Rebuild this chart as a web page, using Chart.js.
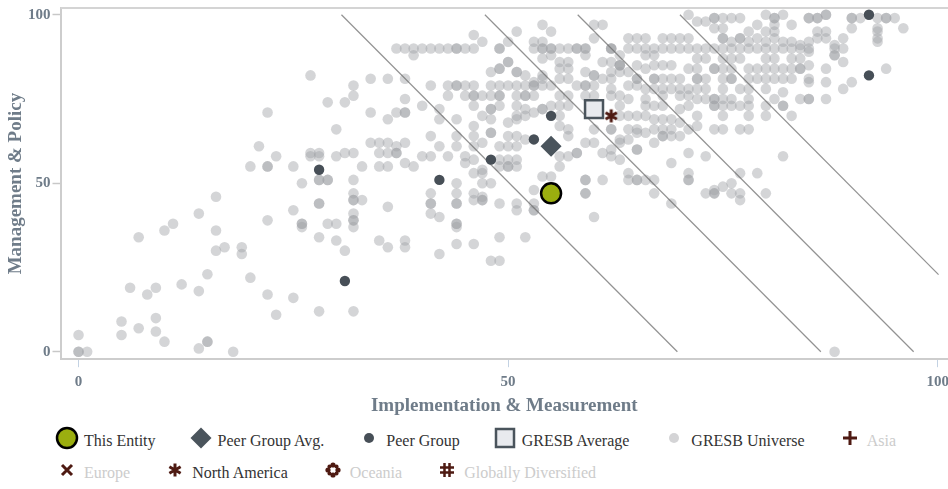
<!DOCTYPE html>
<html>
<head>
<meta charset="utf-8">
<script src="https://cdn.jsdelivr.net/npm/chart.js@4.4.1/dist/chart.umd.min.js"></script>
<style>
  html, body { margin: 0; padding: 0; background: #fff; }
  #wrap { position: relative; width: 948px; height: 489px; overflow: hidden; }
  #chartBox { position: absolute; left: 0; top: 0; width: 948px; height: 420px; }
  #legend {
    position: absolute; left: 57px; top: 430px; width: 880px;
    display: flex; flex-wrap: wrap; column-gap: 35px; row-gap: 10px;
    font: 16px "Liberation Serif", serif;
  }
  #legend .item { display: flex; align-items: center; height: 22px; white-space: nowrap; }
  #legend canvas { margin: 0 4px 0 -3px; position: relative; top: -3px; }
</style>
</head>
<body>
<div id="wrap">
  <div id="chartBox"><canvas id="chart"></canvas></div>
  <div id="legend"></div>
</div>
<script>
const xTicks = [0, 50, 100];
const yTicks = [0, 50, 100];

const thisEntity = [[55, 47]];
const peerGroupAvg = [[55, 61]];
const gresbAverage = [[60, 72]];
const northAmerica = [[62, 70]];

const peerGroup = [
    [28, 54], [31, 21], [42, 51], [48, 57], [53, 63], [55, 70], [92, 100], [92, 82]
];

// score bands (start at y=100, end at bottom/right edge)
const scoreLines = [
    [[30.6, 100], [69.7, 0]],
    [[47.3, 100], [86.4, 0]],
    [[58.1, 100], [97.2, 0]],
    [[70.0, 100], [100.1, 22.9]]
];

// GRESB universe (repeated pairs are stacked entities)
const universeLow = [
    [0, 5], [0, 0], [0, 0], [1, 0], [5, 9], [5, 5], [7, 7], [7, 34], [6, 19], [8, 17], [9, 19], [9, 10],
    [9, 6], [10, 3], [10, 36], [11, 38], [12, 20], [14, 18], [14, 41], [15, 23], [15, 3], [15, 3], [14, 1],
    [16, 46], [16, 36], [16, 30], [17, 31], [18, 0], [19, 31], [19, 29], [20, 22], [22, 39], [22, 17],
    [23, 11], [25, 42], [25, 16], [26, 50], [26, 38], [26, 38], [28, 44], [28, 34], [28, 12],
    [27, 82], [22, 71], [21, 61], [23, 58], [20, 55], [22, 55], [22, 55], [25, 55], [27, 58], [28, 59],
    [28, 51], [28, 51]
];

const universeMid = [
    [29, 74], [31, 74], [32, 76], [32, 79], [34, 81], [36, 81], [38, 81], [30, 66], [34, 71], [36, 69],
    [37, 71], [38, 71], [38, 71], [38, 75], [40, 73],
    [37, 90], [38, 90], [39, 90], [40, 90], [41, 90], [42, 90], [43, 90], [44, 90], [44, 90], [45, 90],
    [46, 90], [39, 88],
    [34, 62], [35, 62], [36, 62], [37, 61], [38, 62],
    [27, 59], [28, 58], [30, 58], [31, 59], [32, 59], [35, 59], [36, 59], [37, 59], [37, 59], [40, 58],
    [33, 55], [35, 55], [36, 55], [38, 56], [39, 55], [32, 51], [29, 51], [29, 51],
    [32, 47], [32, 45], [32, 45], [32, 41], [32, 39], [32, 39], [32, 37], [33, 45], [28, 44], [26, 37],
    [29, 38], [30, 38], [30, 33], [31, 30], [32, 12], [36, 43], [35, 33], [36, 31], [38, 33], [38, 31],
    [41, 47], [41, 44], [41, 44], [41, 41], [42, 40], [42, 29], [44, 50], [44, 47], [44, 44], [44, 44],
    [44, 38], [44, 38], [44, 37], [44, 32], [46, 45], [47, 45], [47, 45], [46, 32], [48, 27], [49, 27],
    [49, 44], [49, 34], [51, 44], [51, 42], [52, 34], [53, 48], [53, 44], [53, 42], [53, 42], [60, 40],
    [46, 47], [47, 46], [59, 47], [59, 47], [54, 52], [55, 52], [59, 51], [59, 51], [61, 51], [64, 51],
    [45, 56], [47, 54], [49, 55], [50, 55], [50, 55], [51, 55], [56, 55],
    // x 41-56
    [46, 94], [47, 92], [50, 92], [51, 95], [53, 92], [54, 92], [54, 97], [55, 95], [49, 90], [49, 90],
    [53, 90], [54, 90], [54, 90], [55, 90], [55, 90],
    [50, 86], [50, 86], [54, 87], [55, 88], [48, 83], [49, 84], [49, 84], [51, 83], [51, 83], [52, 82],
    [53, 80], [54, 81], [54, 82],
    [41, 79], [43, 79], [44, 79], [44, 79], [45, 79], [46, 79], [48, 79], [49, 79], [50, 79], [51, 79],
    [52, 79], [53, 79], [53, 79], [54, 79], [55, 79],
    [43, 76], [45, 76], [46, 76], [46, 76], [47, 76], [48, 76], [49, 76], [49, 76], [51, 76], [52, 76],
    [52, 76], [53, 76],
    [42, 72], [46, 73], [48, 72], [48, 72], [49, 73], [51, 73], [52, 72], [53, 71], [54, 72], [54, 72],
    [55, 73],
    [42, 69], [44, 69], [46, 67], [47, 70], [48, 69], [50, 68], [51, 70], [51, 69], [52, 70],
    [41, 64], [44, 64], [46, 64], [48, 65], [48, 65], [50, 64], [51, 64], [52, 63],
    [42, 61], [44, 61], [46, 61], [47, 62], [49, 61], [50, 61], [51, 61],
    [41, 58], [43, 58], [45, 58], [46, 57], [49, 57], [50, 57], [51, 57],
    [46, 53], [47, 53], [47, 50], [48, 50]
];

const universeHigh = [
    // x 56-71
    [60, 97], [61, 97], [60, 93], [64, 93], [65, 93], [66, 93], [68, 93], [69, 93], [70, 93], [71, 93],
    [56, 90], [57, 90], [58, 90], [58, 90], [59, 90], [59, 90], [62, 90], [62, 90], [62, 90], [64, 90],
    [65, 90], [66, 90], [67, 90], [68, 90], [69, 90], [70, 90], [71, 90],
    [63, 88], [66, 88], [67, 88], [59, 88],
    [61, 86], [62, 86], [63, 85], [63, 85], [63, 85], [65, 85], [67, 85], [68, 85], [69, 85], [56, 86],
    [57, 86], [56, 84], [57, 84], [59, 83], [62, 83], [63, 83], [64, 83], [66, 84],
    [56, 81], [57, 81], [60, 82], [60, 82], [61, 81], [62, 81], [65, 81], [65, 81], [67, 81], [67, 81],
    [68, 81], [69, 81], [70, 81],
    [58, 79], [59, 79], [59, 79], [60, 79], [62, 78], [64, 79], [65, 79], [66, 78], [67, 78], [68, 78],
    [69, 78], [70, 78],
    [56, 76], [57, 76], [59, 76], [60, 76], [62, 76], [63, 76], [64, 75], [66, 75], [68, 76], [70, 76],
    [71, 76],
    [56, 73], [57, 73], [63, 73], [66, 73], [67, 73], [68, 73], [70, 72],
    [56, 70], [63, 70], [64, 70], [65, 70], [66, 70], [67, 69], [68, 69], [69, 69], [70, 68],
    [57, 66], [62, 66], [62, 66], [64, 66], [65, 66], [67, 66], [68, 66], [69, 66],
    [56, 67], [60, 66], [57, 64], [63, 63], [64, 63], [59, 62], [60, 62], [63, 62], [62, 60], [65, 60],
    [65, 60], [67, 62], [56, 58], [57, 58], [58, 59], [58, 59], [61, 59], [62, 58], [63, 57],
    // x 71-85
    [71, 100], [72, 98], [73, 98], [74, 99], [74, 99], [75, 99], [76, 99], [77, 99], [80, 100], [81, 99],
    [81, 99], [81, 97], [82, 100], [83, 97], [85, 99], [85, 99], [87, 100], [87, 100],
    [74, 96], [75, 96], [78, 95], [79, 97], [80, 95], [81, 95],
    [75, 93], [75, 93], [76, 92], [77, 93], [77, 93], [78, 92], [79, 93], [80, 92], [81, 93], [82, 92],
    [83, 92], [84, 91], [85, 92],
    [72, 90], [73, 90], [74, 90], [75, 90], [76, 90], [77, 90], [78, 90], [79, 90], [80, 90], [81, 90],
    [82, 90], [83, 90], [84, 90], [85, 90],
    [72, 87], [73, 87], [75, 87], [76, 87], [77, 87], [80, 87], [81, 87], [83, 87], [84, 87],
    [71, 84], [72, 84], [74, 84], [74, 84], [75, 84], [76, 84], [78, 84], [79, 84], [80, 84], [81, 84],
    [82, 84], [83, 84], [84, 84], [84, 84],
    [72, 81], [72, 81], [73, 81], [75, 81], [76, 81], [76, 81], [78, 81], [79, 81], [80, 81], [81, 81],
    [82, 81], [83, 81], [85, 81],
    [71, 78], [72, 78], [73, 78], [75, 78], [77, 78], [78, 78], [80, 78], [82, 77],
    [72, 75], [73, 75], [74, 75], [74, 75], [75, 75], [76, 75], [78, 75], [81, 75], [84, 75], [85, 75],
    [71, 73], [74, 73], [74, 73], [75, 73], [76, 73], [77, 73], [78, 73], [80, 73], [82, 73], [82, 73],
    [72, 70], [75, 70], [78, 70], [80, 70], [83, 70],
    [71, 66], [74, 66], [75, 66], [77, 66], [78, 66],
    // x 85-96
    [86, 99], [86, 99], [90, 99], [90, 99], [91, 99], [93, 99], [94, 99], [94, 99], [95, 99], [90, 96],
    [93, 96], [93, 95], [93, 93], [93, 92], [96, 96], [86, 95], [87, 95], [87, 93], [86, 93], [88, 91],
    [88, 90], [88, 88], [88, 88], [89, 93], [89, 90], [89, 86], [85, 89], [85, 85], [87, 84], [85, 80],
    [87, 80], [85, 75], [87, 75], [89, 78], [90, 80], [94, 84],
    // lower right
    [65, 65], [66, 65], [68, 64], [68, 64], [69, 64], [70, 64], [72, 67],
    [71, 59], [73, 58], [82, 58], [69, 56], [71, 53], [71, 51], [71, 51], [77, 53], [79, 53], [64, 53],
    [65, 51], [65, 51], [66, 51], [67, 51], [67, 47], [69, 44], [73, 47], [74, 48], [74, 47], [74, 47],
    [75, 49], [76, 50], [76, 47], [77, 47], [77, 45], [80, 47], [88, 0]
];

const serif = '"Liberation Serif", "Times New Roman", serif';
const axisGrey = '#6f7c89';
const brown = '#4e1a12';

const pts = (list) => list.map(([x, y]) => ({ x, y }));

function drawSymbol(ctx, kind, c) {
    ctx.save();
    ctx.lineCap = 'butt';
    ctx.lineJoin = 'miter';
    if (kind === 'entity') {
        ctx.beginPath();
        ctx.arc(c, c, 10, 0, Math.PI * 2);
        ctx.fillStyle = '#9bae0f';
        ctx.fill();
        ctx.lineWidth = 2.5;
        ctx.strokeStyle = '#000';
        ctx.stroke();
    } else if (kind === 'peerAvg') {
        ctx.beginPath();
        ctx.moveTo(c - 10.5, c);
        ctx.lineTo(c, c - 10.5);
        ctx.lineTo(c + 10.5, c);
        ctx.lineTo(c, c + 10.5);
        ctx.closePath();
        ctx.fillStyle = '#4a545c';
        ctx.fill();
    } else if (kind === 'peer' || kind === 'universe') {
        ctx.beginPath();
        ctx.arc(c, c, 5, 0, Math.PI * 2);
        ctx.fillStyle = kind === 'peer' ? '#474f57' : '#d4d4d6';
        ctx.fill();
    } else if (kind === 'gresbAvg') {
        ctx.fillStyle = '#e8eaee';
        ctx.strokeStyle = '#4a545c';
        ctx.lineWidth = 2.5;
        ctx.fillRect(c - 9, c - 9, 18, 18);
        ctx.strokeRect(c - 9, c - 9, 18, 18);
    } else {
        ctx.strokeStyle = brown;
        ctx.fillStyle = brown;
        ctx.lineWidth = 3;
        ctx.beginPath();
        if (kind === 'plus') {
            ctx.moveTo(c - 7, c); ctx.lineTo(c + 7, c);
            ctx.moveTo(c, c - 7); ctx.lineTo(c, c + 7);
        } else if (kind === 'cross') {
            ctx.moveTo(c - 5, c - 5); ctx.lineTo(c + 5, c + 5);
            ctx.moveTo(c + 5, c - 5); ctx.lineTo(c - 5, c + 5);
        } else if (kind === 'asterisk') {
            for (let i = 0; i < 3; i++) {
                const a = Math.PI / 2 + i * Math.PI / 3;
                ctx.moveTo(c - Math.cos(a) * 6.5, c - Math.sin(a) * 6.5);
                ctx.lineTo(c + Math.cos(a) * 6.5, c + Math.sin(a) * 6.5);
            }
        } else if (kind === 'hash') {
            ctx.lineWidth = 2.5;
            ctx.moveTo(c - 2.5, c - 7); ctx.lineTo(c - 2.5, c + 7);
            ctx.moveTo(c + 2.5, c - 7); ctx.lineTo(c + 2.5, c + 7);
            ctx.moveTo(c - 7, c - 2.5); ctx.lineTo(c + 7, c - 2.5);
            ctx.moveTo(c - 7, c + 2.5); ctx.lineTo(c + 7, c + 2.5);
        }
        ctx.stroke();
        if (kind === 'flower') {
            for (let i = 0; i < 8; i++) {
                const a = i * Math.PI / 4;
                const r = i % 2 ? 2 : 2.6;
                ctx.beginPath();
                ctx.arc(c + Math.cos(a) * 5, c + Math.sin(a) * 5, r, 0, Math.PI * 2);
                ctx.fill();
            }
        }
    }
    ctx.restore();
}

function symbolCanvas(kind, size) {
    const cv = document.createElement('canvas');
    cv.width = size;
    cv.height = size;
    drawSymbol(cv.getContext('2d'), kind, size / 2);
    return cv;
}

const topLine = {
    id: 'topLine',
    beforeDatasetsDraw(chart) {
        const { ctx, chartArea } = chart;
        ctx.save();
        ctx.strokeStyle = '#d4d4d4';
        ctx.lineWidth = 2;
        ctx.beginPath();
        ctx.moveTo(chartArea.left, chartArea.top);
        ctx.lineTo(chartArea.right, chartArea.top);
        ctx.stroke();
        ctx.restore();
    }
};

const htmlLegend = {
    id: 'htmlLegend',
    afterUpdate(chart) {
        const box = document.getElementById('legend');
        box.innerHTML = '';
        chart.data.datasets.forEach((ds) => {
            if (!ds.symbol) {
                return;
            }
            const item = document.createElement('div');
            item.className = 'item';
            item.appendChild(symbolCanvas(ds.symbol, 26));
            const label = document.createElement('span');
            label.textContent = ds.label;
            label.style.color = ds.data.length ? '#333333' : '#cccccc';
            item.appendChild(label);
            box.appendChild(item);
        });
    }
};

const datasets = [
    {
        label: 'This Entity', symbol: 'entity', data: pts(thisEntity), order: 0,
        pointRadius: 10, pointBackgroundColor: '#9bae0f', pointBorderColor: '#000', pointBorderWidth: 2.5
    },
    {
        label: 'Peer Group Avg.', symbol: 'peerAvg', data: pts(peerGroupAvg), order: 3,
        pointStyle: 'rectRot', pointRadius: 10.5, pointBackgroundColor: '#4a545c', pointBorderWidth: 0
    },
    {
        label: 'Peer Group', symbol: 'peer', data: pts(peerGroup), order: 4,
        pointRadius: 5.2, pointBackgroundColor: '#474f57', pointBorderWidth: 0
    },
    {
        label: 'GRESB Average', symbol: 'gresbAvg', data: pts(gresbAverage), order: 2,
        pointStyle: 'rect', pointRadius: 12.7, pointBackgroundColor: '#e8eaee',
        pointBorderColor: '#4a545c', pointBorderWidth: 2.5
    },
    {
        label: 'GRESB Universe', symbol: 'universe', data: pts(universeLow.concat(universeMid, universeHigh)), order: 7,
        pointRadius: 5.3, pointBackgroundColor: 'rgba(160,162,167,0.45)', pointBorderWidth: 0
    },
    { label: 'Asia', symbol: 'plus', data: [], order: 1 },
    { label: 'Europe', symbol: 'cross', data: [], order: 1 },
    {
        label: 'North America', symbol: 'asterisk', data: pts(northAmerica), order: 1,
        pointStyle: symbolCanvas('asterisk', 18)
    },
    { label: 'Oceania', symbol: 'flower', data: [], order: 1 },
    { label: 'Globally Diversified', symbol: 'hash', data: [], order: 1 }
];

scoreLines.forEach((line) => {
    datasets.push({
        label: '', data: pts(line), order: 6, showLine: true, pointRadius: 0,
        borderColor: 'rgba(110,110,110,0.75)', borderWidth: 1.2
    });
});

new Chart(document.getElementById('chart'), {
    type: 'scatter',
    data: { datasets: datasets },
    options: {
        responsive: true,
        maintainAspectRatio: false,
        animation: false,
        layout: { autoPadding: false, padding: { left: 7, top: 8, right: 0, bottom: 0 } },
        plugins: {
            legend: { display: false },
            tooltip: { enabled: false }
        },
        scales: {
            x: {
                type: 'linear',
                min: -2.1,
                max: 101.2,
                afterBuildTicks: (s) => { s.ticks = xTicks.map((v) => ({ value: v })); },
                // let the last tick label run past the edge, as in the original
                afterFit: (s) => { s.paddingLeft = 0; s.paddingRight = 0; },
                grid: { display: true, drawOnChartArea: false, drawTicks: true, tickLength: 8, tickColor: '#c3d2e3', tickWidth: 1 },
                border: { display: true, color: '#cdcdcd', width: 2 },
                ticks: { padding: 6, color: axisGrey, font: { family: serif, size: 15, weight: 'bold' } },
                title: {
                    display: true, text: 'Implementation & Measurement', color: axisGrey,
                    font: { family: serif, size: 19, weight: 'bold' }, padding: { top: -3, bottom: 3 }
                }
            },
            y: {
                type: 'linear',
                min: -2.2,
                max: 102,
                afterBuildTicks: (s) => { s.ticks = yTicks.map((v) => ({ value: v })); },
                afterFit: (s) => { s.paddingTop = 0; },
                grid: { display: true, drawOnChartArea: false, drawTicks: true, tickLength: 8, tickColor: '#c8c8c8', tickWidth: 1.5 },
                border: { display: true, color: '#cdcdcd', width: 2 },
                ticks: { padding: 2, color: axisGrey, font: { family: serif, size: 15, weight: 'bold' } },
                title: {
                    display: true, text: 'Management & Policy', color: axisGrey,
                    font: { family: serif, size: 19, weight: 'bold', lineHeight: 1 }, padding: { top: 0, bottom: 0 }
                }
            }
        }
    },
    plugins: [topLine, htmlLegend]
});
</script>
</body>
</html>
